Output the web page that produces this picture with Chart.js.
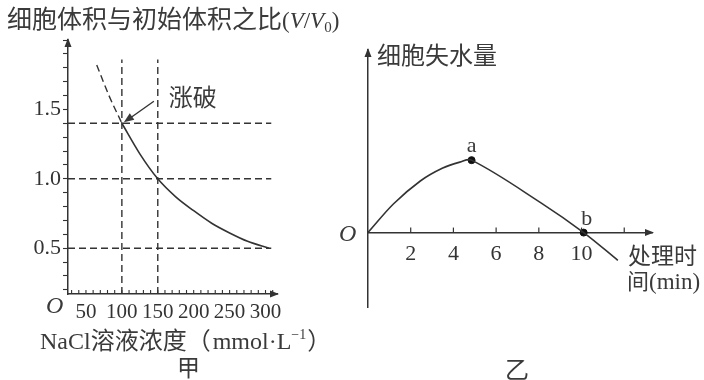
<!DOCTYPE html>
<html>
<head>
<meta charset="utf-8">
<script src="https://cdn.jsdelivr.net/npm/chart.js@4.4.1/dist/chart.umd.min.js"></script>
<style>
  html, body { margin: 0; padding: 0; background: #fff; }
  #wrap { position: relative; width: 704px; height: 380px; }
  #left { position: absolute; left: 0; top: 0; }
  #right { position: absolute; left: 340px; top: 0; }
</style>
</head>
<body>
<div id="wrap">
  <canvas id="left" width="340" height="380"></canvas>
  <canvas id="right" width="364" height="380"></canvas>
</div>
<script>
'use strict'

// 甲: cell volume ratio vs NaCl concentration
const naclConc = [100, 125, 150, 175, 200, 225, 250, 275, 305]
const volRatio = [1.4, 1.18, 1.0, 0.87, 0.77, 0.68, 0.61, 0.55, 0.5]
const burstConc = [65, 82, 100]
const burstRatio = [1.82, 1.6, 1.4]
const refRatios = [1.4, 1.0, 0.5]
const refConcs = [100, 150]
const concLabels = [50, 100, 150, 200, 250, 300]
const ratioLabels = [0.5, 1.0, 1.5]

// 乙: water loss vs treatment time
const timeMin = [0, 1.2, 2.45, 3.5, 4.3, 4.85, 8.1, 10.1, 11.7]
const waterLoss = [0, 2.9, 5.2, 6.5, 7.1, 7.3, 3.0, 0, -2.8]
const markIdx = [5, 7]
const markNames = ['a', 'b']
const timeLabels = [2, 4, 6, 8, 10]

const INK = '#333'
const SERIF = '"Liberation Serif", "DejaVu Serif", serif'
const CJK = '"Noto Sans CJK SC", sans-serif'

const pts = (xs, ys) => xs.map((x, i) => ({ x, y: ys[i] }))

function runs(ctx, x, y, parts) {
  ctx.textAlign = 'left'
  ctx.textBaseline = 'alphabetic'
  parts.forEach(p => {
    ctx.font = p.f
    ctx.fillText(p.t, x, y + (p.dy || 0))
    x += ctx.measureText(p.t).width + (p.gap || 0)
  })
}

function head(ctx, x, y, dir) {
  ctx.beginPath()
  if (dir === 'up') {
    ctx.moveTo(x, y); ctx.lineTo(x - 3.5, y + 9); ctx.lineTo(x + 3.5, y + 9)
  } else {
    ctx.moveTo(x, y); ctx.lineTo(x - 9, y - 3.5); ctx.lineTo(x - 9, y + 3.5)
  }
  ctx.closePath()
  ctx.fill()
}

function line(ctx, x1, y1, x2, y2) {
  ctx.beginPath(); ctx.moveTo(x1, y1); ctx.lineTo(x2, y2); ctx.stroke()
}

const dashed = { borderColor: INK, borderWidth: 1.4, borderDash: [7, 4], pointRadius: 0, tension: 0 }

// ---------- 甲 ----------
const leftSets = [
  { data: pts(naclConc, volRatio), borderColor: INK, borderWidth: 1.6, pointRadius: 0, cubicInterpolationMode: 'monotone' },
  { data: pts(burstConc, burstRatio), ...dashed, cubicInterpolationMode: 'monotone' }
]
refRatios.forEach(r => leftSets.push({ data: [{ x: 25, y: r }, { x: 308, y: r }], ...dashed }))
refConcs.forEach(c => leftSets.push({ data: [{ x: c, y: 0.17 }, { x: c, y: 1.86 }], ...dashed }))

const leftDecor = {
  id: 'leftDecor',
  afterDraw(chart) {
    const { ctx, chartArea: a, scales: { x, y } } = chart
    ctx.save()
    ctx.strokeStyle = INK; ctx.fillStyle = INK; ctx.lineWidth = 1.1
    x.ticks.forEach(t => {
      const px = x.getPixelForValue(t.value)
      line(ctx, px, a.bottom, px, a.bottom - 4)
    })
    head(ctx, a.left, a.top - 2, 'up')
    head(ctx, a.right + 2, a.bottom, 'right')

    ctx.fillStyle = '#3a3a3a'
    runs(ctx, 7, 28, [
      { t: '细胞体积与初始体积之比', f: '25px ' + CJK },
      { t: '(', f: '23px ' + SERIF },
      { t: 'V', f: 'italic 23px ' + SERIF },
      { t: '/', f: '23px ' + SERIF },
      { t: 'V', f: 'italic 23px ' + SERIF },
      { t: '0', f: '15px ' + SERIF, dy: 4 },
      { t: ')', f: '23px ' + SERIF }
    ])

    // burst annotation
    const tx = x.getPixelForValue(burstConc[2]) + 2
    const ty = y.getPixelForValue(burstRatio[2]) - 1
    ctx.lineWidth = 1.4
    line(ctx, tx + 30, ty - 21, tx + 6, ty - 4)
    ctx.save()
    ctx.translate(tx, ty)
    ctx.rotate(Math.atan2(21, -30))
    ctx.beginPath(); ctx.moveTo(0, 0); ctx.lineTo(-10, -4); ctx.lineTo(-10, 4); ctx.closePath(); ctx.fill()
    ctx.restore()
    runs(ctx, tx + 45, ty - 16, [{ t: '涨破', f: '24px ' + CJK }])

    runs(ctx, 46, 313, [{ t: 'O', f: 'italic 24px ' + SERIF }])
    runs(ctx, 40, 349, [
      { t: 'NaCl', f: '24px ' + SERIF },
      { t: '溶液浓度（', f: '24px ' + CJK, gap: 2 },
      { t: 'mmol·L', f: '24px ' + SERIF },
      { t: '−1', f: '14px ' + SERIF, dy: -10, gap: 1 },
      { t: '）', f: '24px ' + CJK }
    ])
    runs(ctx, 177, 376, [{ t: '甲', f: '23px ' + CJK }])
    ctx.restore()
  }
}

new Chart(document.getElementById('left'), {
  type: 'line',
  data: { datasets: leftSets },
  options: {
    responsive: false,
    animation: false,
    layout: { padding: { left: 8, top: 40, right: 63, bottom: 46 } },
    plugins: { legend: { display: false }, tooltip: { enabled: false } },
    scales: {
      x: {
        type: 'linear', min: 25, max: 316,
        afterFit: s => { s.height = 40 },
        grid: { display: false, drawTicks: false },
        border: { color: INK, width: 1.5 },
        ticks: {
          stepSize: 10, includeBounds: false, autoSkip: false, maxRotation: 0, padding: 6,
          color: INK, font: { family: SERIF, size: 21 },
          callback: v => concLabels.includes(Math.round(v)) ? String(Math.round(v)) : ''
        }
      },
      y: {
        type: 'linear', min: 0.17, max: 2.0,
        afterFit: s => { s.width = 60 },
        grid: { drawOnChartArea: false, color: INK, tickLength: 5, tickWidth: 1.1 },
        border: { color: INK, width: 1.5 },
        ticks: {
          stepSize: 0.1, includeBounds: false, autoSkip: false, padding: 2,
          color: INK, font: { family: SERIF, size: 22 },
          callback: v => {
            const r = Math.round(v * 10) / 10
            return ratioLabels.includes(r) ? r.toFixed(1) : ''
          }
        }
      }
    }
  },
  plugins: [leftDecor]
})

// ---------- 乙 ----------
const rightDecor = {
  id: 'rightDecor',
  afterDraw(chart) {
    const { ctx, chartArea: a, scales: { x, y } } = chart
    const y0 = y.getPixelForValue(0)
    ctx.save()
    ctx.strokeStyle = INK; ctx.fillStyle = INK; ctx.lineWidth = 1.2
    x.ticks.forEach(t => {
      if (t.value <= 0) return
      const px = x.getPixelForValue(t.value)
      line(ctx, px, y0, px, y0 - 5)
    })
    head(ctx, a.left, a.top - 2, 'up')
    head(ctx, a.right + 2, y0, 'right')

    ctx.fillStyle = '#3a3a3a'
    markIdx.forEach((k, i) => {
      const px = x.getPixelForValue(timeMin[k])
      const py = y.getPixelForValue(waterLoss[k])
      ctx.font = '22px ' + SERIF
      ctx.textAlign = 'center'
      ctx.textBaseline = 'alphabetic'
      ctx.fillText(markNames[i], px + (i ? 3 : 0), py - 8)
    })
    runs(ctx, 37, 64, [{ t: '细胞失水量', f: '24px ' + CJK }])
    runs(ctx, -1, 241, [{ t: 'O', f: 'italic 24px ' + SERIF }])
    runs(ctx, 288, 264, [{ t: '处理时', f: '23px ' + CJK }])
    runs(ctx, 287, 289, [
      { t: '间', f: '22px ' + CJK },
      { t: '(min)', f: '23px ' + SERIF }
    ])
    runs(ctx, 165, 378, [{ t: '乙', f: '24px ' + CJK }])
    ctx.restore()
  }
}

new Chart(document.getElementById('right'), {
  type: 'line',
  data: {
    datasets: [
      { data: pts(timeMin, waterLoss), borderColor: INK, borderWidth: 1.6, pointRadius: 0, tension: 0.35 },
      {
        data: markIdx.map(k => ({ x: timeMin[k], y: waterLoss[k] })),
        showLine: false, pointRadius: 3.5, pointBackgroundColor: '#111', pointBorderColor: '#111'
      }
    ]
  },
  options: {
    responsive: false,
    animation: false,
    layout: { padding: { left: 28, top: 50, right: 52, bottom: 73 } },
    plugins: { legend: { display: false }, tooltip: { enabled: false } },
    scales: {
      x: {
        type: 'linear', min: 0, max: 13.3, position: { y: 0 },
        grid: { display: false, drawTicks: false },
        border: { color: INK, width: 1.5 },
        ticks: {
          stepSize: 2, includeBounds: false, autoSkip: false, maxRotation: 0, padding: 8,
          color: INK, font: { family: SERIF, size: 22 },
          callback: v => timeLabels.includes(Math.round(v)) ? String(Math.round(v)) : ''
        }
      },
      y: {
        type: 'linear', min: -7.5, max: 18.4,
        afterFit: s => { s.width = 0 },
        grid: { display: false },
        border: { color: INK, width: 1.5 },
        ticks: { display: false }
      }
    }
  },
  plugins: [rightDecor]
})
</script>
</body>
</html>
